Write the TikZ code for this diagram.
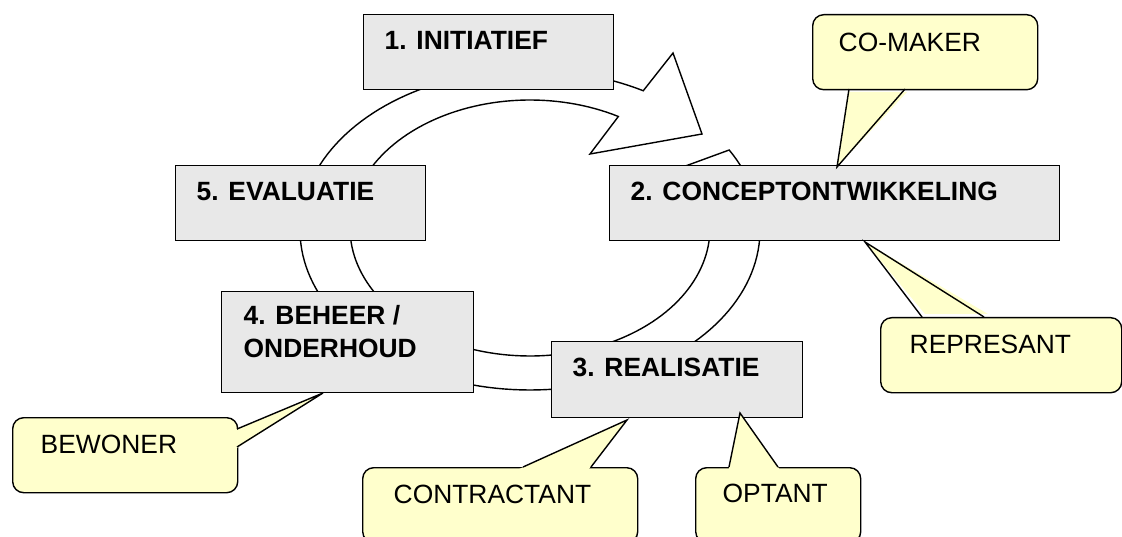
\documentclass[tikz,border=0pt]{standalone}
\usepackage{fontspec}
\setmainfont{Liberation Sans}
\definecolor{boxfill}{HTML}{E8E8E8}
\definecolor{callfill}{HTML}{FFFFCC}
\begin{document}
\begin{tikzpicture}[x=1pt,y=-1pt,
  line width=1.4pt, line join=miter,
  stagebox/.style={draw=black, fill=boxfill, inner sep=0pt, anchor=north west},
  callbox/.style={draw=black, fill=callfill, inner sep=0pt, anchor=north west, rounded corners=11pt},
  stagetxt/.style={anchor=base west, inner sep=0pt, font=\fontsize{26.4}{33}\selectfont\bfseries},
  calltxt/.style={anchor=base west, inner sep=0pt, font=\fontsize{26.4}{33}\selectfont}]
\useasboundingbox (0,0) rectangle (1122,537);
\clip (0,0) rectangle (1122,537);
\fill[white] (0,0) rectangle (1122,537);

% circular arrow
\filldraw[draw=black, fill=white]
  plot[domain=-30:299.5, samples=160] ({530+230*cos(\x)},{230+160*sin(\x)})
  -- (673,53) -- (702,134) -- (590,154)
  -- plot[domain=0:1, samples=160] ({530+180*cos(299.4-328.8*\x)},{228+128*sin(299.4-328.8*\x)})
  -- cycle;

% stage boxes
\node[stagebox, minimum width=250pt, minimum height=75pt] (b1) at (363,14) {};
\node[stagebox, minimum width=250pt, minimum height=75pt] (b5) at (175,165) {};
\node[stagebox, minimum width=450pt, minimum height=75pt] (b2) at (609,165) {};
\node[stagebox, minimum width=252pt, minimum height=101pt] (b4) at (221,291) {};
\node[stagebox, minimum width=251pt, minimum height=76pt] (b3) at (551,341) {};

\node[stagetxt] (t1) at (384,50) {1. INITIATIEF};
\node[stagetxt] (t5) at (196,201) {5. EVALUATIE};
\node[stagetxt] (t2) at (630,201) {2. CONCEPTONTWIKKELING};
\node[stagetxt] (t4a) at (243,325) {4. BEHEER /};
\node[stagetxt] (t4b) at (243,358) {ONDERHOUD};
\node[stagetxt] (t3) at (572,377) {3. REALISATIE};

% callouts
% CO-MAKER
\node[callbox, minimum width=225pt, minimum height=75pt] (cm) at (812,14) {};
\fill[callfill] (848,92) -- (837,167) -- (907,92) -- cycle;
\draw (849,89) -- (837,167) -- (905,89);
\node[calltxt] (tcm) at (838,52) {CO-MAKER};
% REPRESANT
\node[callbox, minimum width=241pt, minimum height=75pt] (rp) at (880,317) {};
\fill[callfill] (925,314) -- (865,242) -- (988,314) -- cycle;
\draw (922,317) -- (865,242) -- (984,317);
\node[calltxt] (trp) at (909,353) {REPRESANT};
% BEWONER
\node[callbox, minimum width=225pt, minimum height=75pt] (bw) at (12,417) {};
\fill[callfill] (234,431) -- (323,393) -- (234,450) -- cycle;
\draw (237,429) -- (323,393) -- (237,447);
\node[calltxt] (tbw) at (40,453) {BEWONER};
% CONTRACTANT
\node[callbox, minimum width=275pt, minimum height=75pt] (ct) at (362,467) {};
\fill[callfill] (517,470) -- (627,420) -- (588,470) -- cycle;
\draw (523,467) -- (627,420) -- (591,467);
\node[calltxt] (tct) at (393,503) {CONTRACTANT};
% OPTANT
\node[callbox, minimum width=165pt, minimum height=75pt] (op) at (695,467) {};
\fill[callfill] (728.5,470) -- (740,413) -- (780,470) -- cycle;
\draw (729,467) -- (740,413) -- (778,467);
\node[calltxt] (top) at (722,502) {OPTANT};
\end{tikzpicture}
\end{document}
